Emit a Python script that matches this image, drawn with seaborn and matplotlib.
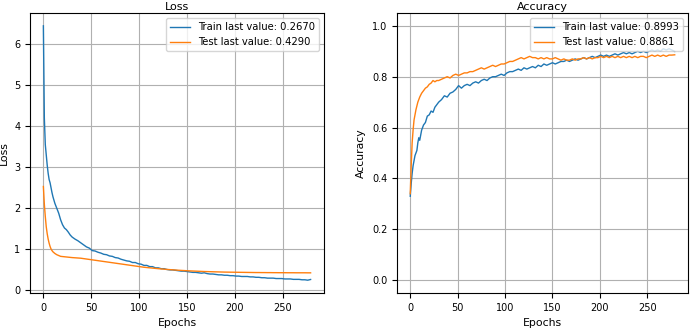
import matplotlib
matplotlib.use("Agg")
import matplotlib.pyplot as plt
import seaborn as sns
import pandas as pd

# epochs sampled from the training log (dense at the start)
epochs = list(range(0, 11)) + list(range(12, 31, 2)) + list(range(33, 277, 3)) + [279]

train_loss = [6.44, 4.20, 3.55, 3.30, 3.05, 2.85, 2.70, 2.62, 2.50, 2.38, 2.28,
              2.12, 2.00, 1.88, 1.72, 1.60, 1.52, 1.48, 1.42, 1.35, 1.30,
              1.25, 1.21, 1.16, 1.11, 1.06, 1.03, 0.97, 0.96, 0.93, 0.91,
              0.88, 0.87, 0.84, 0.83, 0.80, 0.79, 0.76, 0.74, 0.72, 0.71,
              0.68, 0.68, 0.65, 0.64, 0.61, 0.61, 0.58, 0.58, 0.55, 0.55,
              0.53, 0.53, 0.51, 0.50, 0.50, 0.49, 0.48, 0.47, 0.47, 0.46,
              0.45, 0.44, 0.44, 0.43, 0.42, 0.43, 0.41, 0.40, 0.40, 0.39,
              0.38, 0.38, 0.37, 0.37, 0.36, 0.36, 0.35, 0.35, 0.34, 0.34,
              0.34, 0.33, 0.33, 0.32, 0.32, 0.31, 0.31, 0.30, 0.30, 0.30,
              0.29, 0.29, 0.29, 0.28, 0.28, 0.28, 0.27, 0.27, 0.27, 0.26,
              0.26, 0.25, 0.267]
test_loss = [2.53, 2.10, 1.80, 1.55, 1.38, 1.25, 1.15, 1.07, 1.01, 0.97, 0.94,
             0.90, 0.87, 0.85, 0.83, 0.825, 0.82, 0.815, 0.81, 0.805, 0.80,
             0.795, 0.79, 0.785, 0.775, 0.765, 0.755, 0.745, 0.735, 0.725, 0.715,
             0.705, 0.695, 0.685, 0.675, 0.665, 0.655, 0.645, 0.635, 0.625, 0.615,
             0.605, 0.595, 0.585, 0.575, 0.565, 0.558, 0.551, 0.544, 0.537, 0.530,
             0.524, 0.518, 0.512, 0.507, 0.502, 0.497, 0.492, 0.488, 0.484, 0.480,
             0.476, 0.473, 0.470, 0.467, 0.464, 0.461, 0.459, 0.457, 0.455, 0.453,
             0.451, 0.449, 0.447, 0.446, 0.445, 0.444, 0.443, 0.442, 0.441, 0.440,
             0.439, 0.438, 0.437, 0.436, 0.436, 0.435, 0.435, 0.434, 0.434, 0.433,
             0.433, 0.432, 0.432, 0.432, 0.431, 0.431, 0.431, 0.430, 0.430, 0.430,
             0.430, 0.429, 0.429]
train_acc = [0.33, 0.38, 0.42, 0.45, 0.47, 0.49, 0.50, 0.51, 0.54, 0.56, 0.55,
             0.59, 0.61, 0.62, 0.645, 0.65, 0.665, 0.66, 0.68, 0.69, 0.70,
             0.71, 0.725, 0.72, 0.735, 0.74, 0.75, 0.765, 0.755, 0.765, 0.77,
             0.765, 0.775, 0.78, 0.775, 0.785, 0.79, 0.785, 0.795, 0.80, 0.80,
             0.805, 0.81, 0.805, 0.815, 0.82, 0.82, 0.825, 0.83, 0.825, 0.835,
             0.83, 0.835, 0.84, 0.835, 0.845, 0.84, 0.85, 0.845, 0.85, 0.855,
             0.85, 0.855, 0.86, 0.86, 0.865, 0.86, 0.865, 0.87, 0.865, 0.87,
             0.875, 0.87, 0.875, 0.88, 0.875, 0.88, 0.885, 0.88, 0.885, 0.88,
             0.885, 0.89, 0.885, 0.89, 0.895, 0.89, 0.895, 0.89, 0.895, 0.90,
             0.895, 0.90, 0.895, 0.90, 0.905, 0.90, 0.905, 0.90, 0.91, 0.905,
             0.91, 0.905, 0.8993]
test_acc = [0.34, 0.45, 0.54, 0.59, 0.63, 0.65, 0.67, 0.685, 0.70, 0.71, 0.72,
            0.735, 0.745, 0.755, 0.76, 0.77, 0.775, 0.785, 0.78, 0.785, 0.785,
            0.79, 0.795, 0.80, 0.795, 0.805, 0.81, 0.805, 0.81, 0.815, 0.815,
            0.82, 0.82, 0.825, 0.83, 0.835, 0.83, 0.835, 0.84, 0.845, 0.84,
            0.845, 0.85, 0.85, 0.855, 0.86, 0.86, 0.865, 0.87, 0.875, 0.87,
            0.875, 0.88, 0.875, 0.875, 0.87, 0.875, 0.87, 0.875, 0.87, 0.87,
            0.875, 0.87, 0.865, 0.87, 0.865, 0.865, 0.87, 0.865, 0.87, 0.87,
            0.875, 0.87, 0.875, 0.87, 0.875, 0.875, 0.88, 0.875, 0.88, 0.875,
            0.88, 0.875, 0.88, 0.875, 0.88, 0.875, 0.88, 0.875, 0.88, 0.875,
            0.88, 0.88, 0.875, 0.88, 0.885, 0.88, 0.885, 0.88, 0.885, 0.88,
            0.885, 0.885, 0.8861]

fig = plt.figure(figsize=(6.9, 3.28), dpi=100)
ax1 = fig.add_axes([0.0435, 0.107, 0.426, 0.853])
ax2 = fig.add_axes([0.5754, 0.107, 0.4216, 0.853])

def panel(ax, train, test, name):
    df = pd.DataFrame({"epoch": epochs, "train": train, "test": test})
    sns.lineplot(data=df, x="epoch", y="train", ax=ax, color="#1f77b4", linewidth=1,
                 label="Train last value: %.4f" % train[-1])
    sns.lineplot(data=df, x="epoch", y="test", ax=ax, color="#ff7f0e", linewidth=1,
                 label="Test last value: %.4f" % test[-1])
    ax.set_title(name, fontsize=8, pad=2)
    ax.set_xlabel("Epochs", fontsize=7.8)
    ax.set_ylabel(name, fontsize=7.8)
    ax.tick_params(labelsize=7)
    ax.grid(True, color="#b0b0b0", linewidth=0.8)
    ax.legend(loc="upper right", fontsize=7.2)

panel(ax1, train_loss, test_loss, "Loss")
panel(ax2, train_acc, test_acc, "Accuracy")
ax2.set_ylim(-0.05, 1.05)

fig.savefig("out.png", dpi=100)
